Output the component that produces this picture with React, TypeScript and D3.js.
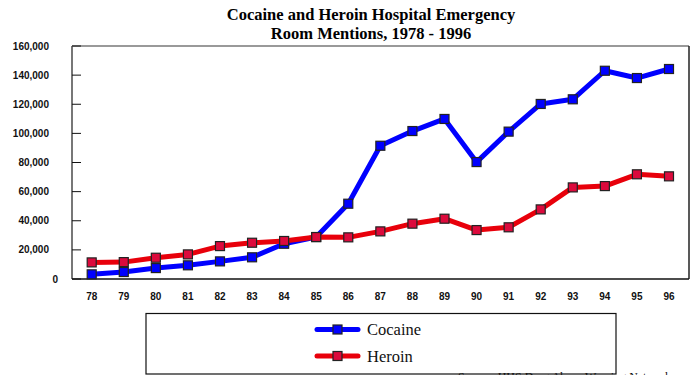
import React from "react";
import * as d3 from "d3";

// Emergency room mentions by year, 1978-1996
const years = ["78","79","80","81","82","83","84","85","86","87","88","89","90","91","92","93","94","95","96"];
const cocaine = [3200, 4800, 7500, 9400, 12100, 14900, 24200, 28800, 51700, 91500, 101600, 109900, 80300, 101200, 120200, 123400, 143000, 138000, 144200];
const heroin = [11400, 11600, 14600, 16900, 22600, 24900, 26100, 28800, 28600, 32700, 38000, 41400, 33600, 35500, 47800, 62900, 63800, 71900, 70500];
const yTicks = [0, 20000, 40000, 60000, 80000, 100000, 120000, 140000, 160000];

const W = 693;
const H = 375;
const plot = { left: 72, right: 689, top: 46, bottom: 279 };

const series = [
  { name: "Cocaine", values: cocaine, line: "#0000ff", fill: "#0000ff" },
  { name: "Heroin", values: heroin, line: "#e8000b", fill: "#dc0a3c" },
];

export default function App() {
  const x = d3.scalePoint<string>().domain(years).range([91.7, 669]);
  const y = d3.scaleLinear().domain([0, 160000]).range([plot.bottom, plot.top]);
  const fmt = d3.format(",");
  const lineGen = (vals: number[]) =>
    d3.line<number>().x((_, i) => x(years[i]) as number).y((d) => y(d))(vals) as string;

  const ms = 9;
  return (
    <svg width={W} height={H} style={{ position: "absolute", left: 0, top: 0, background: "#fff" }}>
      <text x={371} y={20} textAnchor="middle" fontFamily="Liberation Serif, Times New Roman, serif" fontWeight="bold" fontSize={16.5}>
        Cocaine and Heroin Hospital Emergency
      </text>
      <text x={371} y={38.5} textAnchor="middle" fontFamily="Liberation Serif, Times New Roman, serif" fontWeight="bold" fontSize={16.5}>
        Room Mentions, 1978 - 1996
      </text>

      {/* plot frame */}
      <line x1={plot.left} x2={plot.right} y1={plot.top} y2={plot.top} stroke="#777" strokeWidth={1.5} />
      <line x1={plot.right} x2={plot.right} y1={plot.top} y2={plot.bottom} stroke="#222" strokeWidth={1.5} />
      <line x1={plot.left} x2={plot.left} y1={plot.top} y2={plot.bottom} stroke="#777" strokeWidth={2} />
      <line x1={plot.left} x2={plot.right} y1={plot.bottom} y2={plot.bottom} stroke="#111" strokeWidth={1.5} />

      {yTicks.map((t) => (
        <g key={t}>
          <line x1={plot.left} x2={plot.left + 9} y1={y(t)} y2={y(t)} stroke="#111" strokeWidth={1} />
          <text x={t === 0 ? 58 : 49} y={y(t) + 3.5} textAnchor="end" fontFamily="Liberation Sans, Arial, sans-serif" fontWeight="bold" fontSize={10} fill="#111">
            {fmt(t)}
          </text>
        </g>
      ))}

      {years.map((yr) => (
        <text key={yr} x={x(yr)} y={300} textAnchor="middle" fontFamily="Liberation Sans, Arial, sans-serif" fontWeight="bold" fontSize={10} fill="#111">
          {yr}
        </text>
      ))}

      {series.map((s) => (
        <g key={s.name}>
          <path d={lineGen(s.values)} fill="none" stroke={s.line} strokeWidth={5} strokeLinejoin="round" />
          {s.values.map((v, i) => (
            <rect
              key={i}
              x={(x(years[i]) as number) - ms / 2}
              y={y(v) - ms / 2}
              width={ms}
              height={ms}
              fill={s.fill}
              stroke="#222"
              strokeWidth={1.2}
            />
          ))}
        </g>
      ))}

      {/* legend */}
      <rect x={146} y={313.5} width={470} height={60.5} fill="#fff" stroke="#111" strokeWidth={1.2} />
      {series.map((s, i) => {
        const ly = 329.5 + i * 26.5;
        return (
          <g key={s.name}>
            <line x1={317} x2={358} y1={ly} y2={ly} stroke={s.line} strokeWidth={5} strokeLinecap="round" />
            <rect x={337.5 - ms / 2} y={ly - ms / 2} width={ms} height={ms} fill={s.fill} stroke="#222" strokeWidth={1.2} />
            <text x={367} y={ly + 5.5} fontFamily="Liberation Serif, Times New Roman, serif" fontSize={16.5} fill="#111">
              {s.name}
            </text>
          </g>
        );
      })}

      {/* source note, running off the bottom edge */}
      <text x={458} y={381} fontFamily="Liberation Serif, Times New Roman, serif" fontSize={12} fill="#111">
        Source: HHS Drug Abuse Warning Network
      </text>
    </svg>
  );
}
